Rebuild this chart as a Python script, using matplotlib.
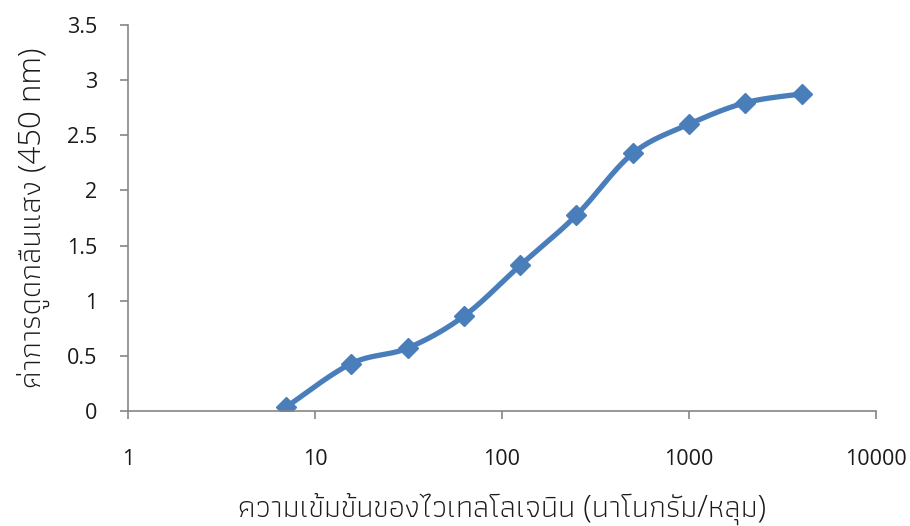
import numpy as np
import matplotlib
matplotlib.use("Agg")
import matplotlib.pyplot as plt
from matplotlib import font_manager
from matplotlib.ft2font import FT2Font

# ความเข้มข้น (นาโนกรัม/หลุม) และค่าการดูดกลืนแสงที่ 450 nm
conc = [7, 15.6, 31.25, 62.5, 125, 250, 500, 1000, 2000, 4000]
absorb = [0.035, 0.43, 0.57, 0.86, 1.32, 1.775, 2.335, 2.60, 2.795, 2.875]

x_ticks = [1, 10, 100, 1000, 10000]
y_ticks = [0, 0.5, 1, 1.5, 2, 2.5, 3, 3.5]

x_title = "ความเข้มข้นของไวเทลโลเจนิน (นาโนกรัม/หลุม)"
y_title = "ค่าการดูดกลืนแสง (450 nm)"


def as_weight(w):
    if isinstance(w, str):
        return font_manager.weight_dict.get(w, 400)
    return int(w)


def thai_font(text):
    need = {ord(c) for c in text if 0x0E00 <= ord(c) <= 0x0E7F}
    found = []
    for entry in font_manager.fontManager.ttflist:
        if "unifont" in entry.name.lower():
            continue
        try:
            cmap = FT2Font(entry.fname).get_charmap()
        except Exception:
            continue
        if need <= set(cmap) and entry.style == "normal":
            found.append((as_weight(entry.weight), entry.name))
    if not found:
        return None, 400
    # lightest upright face, but not thinner than "light"
    found.sort(key=lambda t: (abs(t[0] - 300), t[0]))
    return found[0][1], found[0][0]


fam, thai_w = thai_font(x_title + y_title)
families = ["Open Sans"] + ([fam] if fam else []) + ["DejaVu Sans"]
plt.rcParams["font.family"] = families


def smooth(xs, ys, n=30):
    # bezier smoothing like the spreadsheet "smoothed line" option
    lx = np.log10(xs)
    ys = np.asarray(ys, float)
    pts = np.column_stack([lx, ys])
    out = []
    for i in range(len(pts) - 1):
        p0 = pts[i - 1] if i > 0 else pts[i]
        p1 = pts[i]
        p2 = pts[i + 1]
        p3 = pts[i + 2] if i + 2 < len(pts) else pts[i + 1]
        c1 = p1 + (p2 - p0) / 6
        c2 = p2 - (p3 - p1) / 6
        t = np.linspace(0, 1, n)[:, None]
        seg = ((1 - t) ** 3) * p1 + 3 * ((1 - t) ** 2) * t * c1 + 3 * (1 - t) * t ** 2 * c2 + t ** 3 * p2
        out.append(seg if i == 0 else seg[1:])
    out = np.vstack(out)
    return 10 ** out[:, 0], out[:, 1]


fig = plt.figure(figsize=(9.1, 5.26), dpi=100)
ax = fig.add_axes([0.1407, 0.2186, 0.8219, 0.7339])

blue = "#4a7ebb"
sx, sy = smooth(conc, absorb)
ax.plot(sx, sy, color=blue, lw=3.8, solid_capstyle="round")
ax.plot(conc, absorb, ls="none", marker="D", ms=10.5, color=blue, mec=blue)

ax.set_xscale("log")
ax.set_xlim(1, 10000)
ax.set_ylim(0, 3.5)
ax.set_xticks(x_ticks)
ax.set_xticklabels([str(v) for v in x_ticks])
ax.xaxis.set_minor_locator(matplotlib.ticker.NullLocator())
ax.set_yticks(y_ticks)
ax.set_yticklabels(["0", "0.5", "1", "1.5", "2", "2.5", "3", "3.5"])

for s in ["top", "right"]:
    ax.spines[s].set_visible(False)
for s in ["left", "bottom"]:
    ax.spines[s].set_color("#868686")
    ax.spines[s].set_linewidth(1.2)
ax.tick_params(colors="#868686", length=6, width=1.2, labelcolor="#1a1a1a", labelsize=15.5)
ax.tick_params(axis="x", pad=21)
ax.tick_params(axis="y", pad=16)

ax.set_xlabel(x_title, fontsize=22.5, labelpad=17, fontweight=thai_w, color="#1a1a1a")
ax.set_ylabel(y_title, fontsize=22.5, labelpad=12, fontweight=thai_w, color="#1a1a1a")

fig.savefig("out.png", dpi=100)
